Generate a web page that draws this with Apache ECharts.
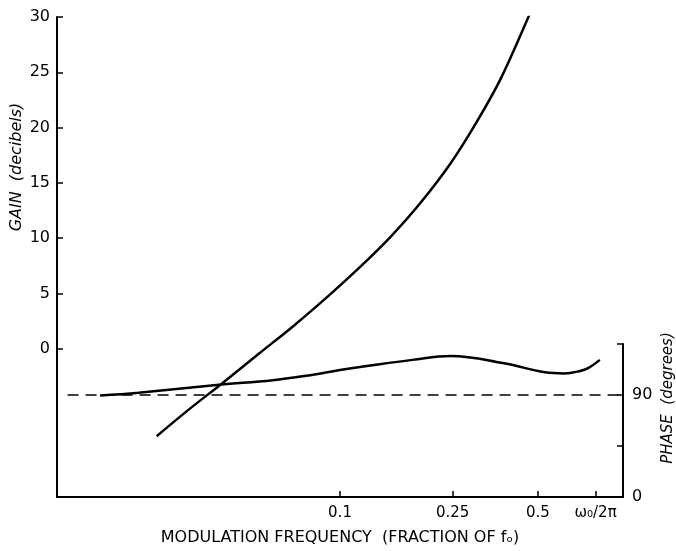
<!DOCTYPE html>
<html>
<head>
<meta charset="utf-8">
<script src="https://cdn.jsdelivr.net/npm/echarts@6/dist/echarts.min.js"></script>
<style>html,body{margin:0;padding:0;background:#fff}#c{width:676px;height:551px}</style>
</head>
<body>
<div id="c"></div>
<script>
// ---- data ----
const gainFreq  = [0.0225, 0.0292, 0.038, 0.0519, 0.068, 0.0921, 0.1178, 0.1506, 0.1926, 0.2464, 0.3023, 0.371, 0.4667];
const gainDb    = [-7.9, -5.5, -3.2, -0.4, 2.0, 4.9, 7.4, 10.1, 13.2, 16.8, 20.4, 24.5, 30.2];
const phaseFreq = [0.0142, 0.0194, 0.0374, 0.0578, 0.076, 0.1, 0.128, 0.18, 0.246, 0.38, 0.53, 0.62, 0.70, 0.756, 0.828];
const phaseDeg  = [89.5, 92, 99, 103, 107, 112, 116, 121, 124.5, 118, 110, 109, 111, 114, 121];
const refFreq   = [0.0109, 1.0];
const refDeg    = [90, 90];
const xTickVals = [0.1, 0.25, 0.5, 0.8];
const xTickText = ['0.1', '0.25', '0.5', 'ω₀/2π'];
const gainTicks = [0, 5, 10, 15, 20, 25, 30];
const phaseLabelVals = [0, 90];

const zip = (a, b) => a.map((v, i) => [v, b[i]]);
const FONT = 'DejaVu Sans';
const axisLineStyle = { color: '#000', width: 2 };

const chart = echarts.init(document.getElementById('c'), null, { renderer: 'canvas' });
chart.setOption({
  animation: false,
  backgroundColor: '#fff',
  grid: [
    { left: 57, right: 53, top: 17, bottom: 54, outerBoundsMode: 'none', containLabel: false },
    { left: 57, right: 53, top: 344, bottom: 54, outerBoundsMode: 'none', containLabel: false }
  ],
  xAxis: [
    {
      type: 'log', gridIndex: 0, min: 0.01, max: 1, logBase: 10,
      axisLine: { show: true, onZero: false, lineStyle: axisLineStyle },
      axisTick: { show: true, inside: true, length: 6, customValues: xTickVals, lineStyle: { color: '#000', width: 1.5 } },
      axisLabel: {
        customValues: xTickVals, margin: 9, color: '#000', fontFamily: FONT, fontSize: 15,
        formatter: v => { const i = xTickVals.findIndex(t => Math.abs(t - v) < 1e-9); return i >= 0 ? xTickText[i] : ''; }
      },
      splitLine: { show: false }, minorTick: { show: false },
      name: 'MODULATION FREQUENCY  (FRACTION OF fₒ)', nameLocation: 'middle', nameGap: 33,
      nameTextStyle: { color: '#000', fontFamily: FONT, fontSize: 16 }
    },
    { type: 'log', gridIndex: 1, min: 0.01, max: 1, logBase: 10, show: false }
  ],
  yAxis: [
    {
      type: 'value', gridIndex: 0, position: 'left', min: -13.4, max: 30,
      axisLine: { show: true, onZero: false, lineStyle: axisLineStyle },
      axisTick: { show: true, inside: true, length: 6, customValues: gainTicks, lineStyle: { color: '#000', width: 1.5 } },
      axisLabel: { customValues: gainTicks, margin: 7, color: '#000', fontFamily: FONT, fontSize: 16 },
      splitLine: { show: false }
    },
    {
      type: 'value', gridIndex: 1, position: 'right', min: 0, max: 135, interval: 45,
      axisLine: { show: true, onZero: false, lineStyle: axisLineStyle },
      axisTick: { show: true, inside: true, length: 6, lineStyle: { color: '#000', width: 1.5 } },
      axisLabel: { margin: 9, color: '#000', fontFamily: FONT, fontSize: 16,
        formatter: v => phaseLabelVals.includes(v) ? String(v) : '' },
      splitLine: { show: false }
    }
  ],
  graphic: [
    { type: 'text', x: 17, y: 167, rotation: Math.PI / 2, style: { text: 'GAIN  (decibels)', fontFamily: FONT, fontSize: 16, fontStyle: 'italic', fill: '#000', align: 'center', verticalAlign: 'middle' } },
    { type: 'text', x: 668, y: 398, rotation: Math.PI / 2, style: { text: 'PHASE  (degrees)', fontFamily: FONT, fontSize: 15, fontStyle: 'italic', fill: '#000', align: 'center', verticalAlign: 'middle' } }
  ],
  series: [
    { name: 'Gain', type: 'line', xAxisIndex: 0, yAxisIndex: 0, data: zip(gainFreq, gainDb), smooth: 0.3, showSymbol: false, lineStyle: { color: '#000', width: 2.5 } },
    { name: 'Phase', type: 'line', xAxisIndex: 1, yAxisIndex: 1, data: zip(phaseFreq, phaseDeg), smooth: 0.4, showSymbol: false, lineStyle: { color: '#000', width: 2.5 } },
    { name: '90°', type: 'line', xAxisIndex: 1, yAxisIndex: 1, data: zip(refFreq, refDeg), showSymbol: false, lineStyle: { color: '#000', width: 1.3, type: [11, 7] } }
  ]
});
</script>
</body>
</html>
